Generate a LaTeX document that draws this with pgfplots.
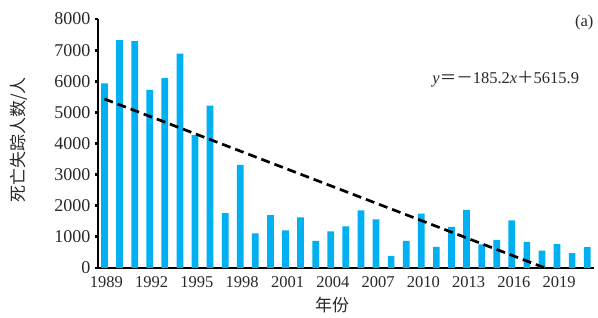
\documentclass[border=0pt]{standalone}
\usepackage{pgfplots}
\pgfplotsset{compat=1.18}
\usepackage{fontspec}
\setmainfont{Liberation Serif}
\newfontfamily\cjk{Noto Sans CJK SC}
\definecolor{barblue}{RGB}{0,176,240}
\definecolor{txt}{RGB}{40,40,40}
\begin{document}
\begin{tikzpicture}
\path[use as bounding box] (-98pt,-50pt) rectangle (500pt,268pt);
\begin{axis}[
  scale only axis, width=496pt, height=249pt,
  xmin=1988.57, xmax=2021.45, ymin=0, ymax=8000,
  axis x line=bottom, axis y line=left,
  axis line style={-, line width=2.8pt, black},
  xtick={1989,1992,...,2019},
  ytick={0,1000,...,8000},
  x tick style={draw=none},
  y tick style={line width=2.8pt, black},
  tick align=outside, major tick length=3pt,
  xticklabel style={font=\fontsize{16.5}{17}\selectfont, text=txt, yshift=-2pt, xshift=2pt},
  yticklabel style={font=\fontsize{18}{18}\selectfont, text=txt, xshift=-1pt},
  /pgf/number format/1000 sep={},
  /pgf/number format/assume math mode=true,
  every axis y label/.style={at={(axis description cs:0,0.514)}, xshift=-79pt, rotate=90, anchor=center, font=\cjk\fontsize{17}{17}\selectfont, text=txt},
  every axis x label/.style={at={(axis description cs:0.472,0)}, yshift=-37pt, anchor=center, font=\cjk\fontsize{17}{17}\selectfont, text=txt},
  ylabel={死亡失踪人数/人},
  xlabel={年份},
  clip=false,
]
\addplot[ybar, bar width=6.7pt, fill=barblue, draw=none] coordinates {
(1989,5930) (1990,7320) (1991,7290) (1992,5720) (1993,6100) (1994,6890)
(1995,4270) (1996,5220) (1997,1760) (1998,3310) (1999,1110) (2000,1700)
(2001,1210) (2002,1630) (2003,870) (2004,1180) (2005,1340) (2006,1850)
(2007,1560) (2008,390) (2009,870) (2010,1750) (2011,680) (2012,1320)
(2013,1870) (2014,760) (2015,900) (2016,1530) (2017,840) (2018,560)
(2019,770) (2020,480) (2021,670)
};
\addplot[black, line width=2.7pt, dash pattern=on 9pt off 5pt] coordinates {(1989,5430.7) (2018.2,0)};
\node[text=txt, font=\fontsize{16.5}{17}\selectfont] at (axis cs:2015.6,6070) {\textit{y}{\cjk ＝－}185.2\textit{x}{\cjk ＋}5615.9};
\node[text=txt, font=\fontsize{16.5}{17}\selectfont] at (axis cs:2020.8,7900) {(a)};
\end{axis}
\end{tikzpicture}
\end{document}
